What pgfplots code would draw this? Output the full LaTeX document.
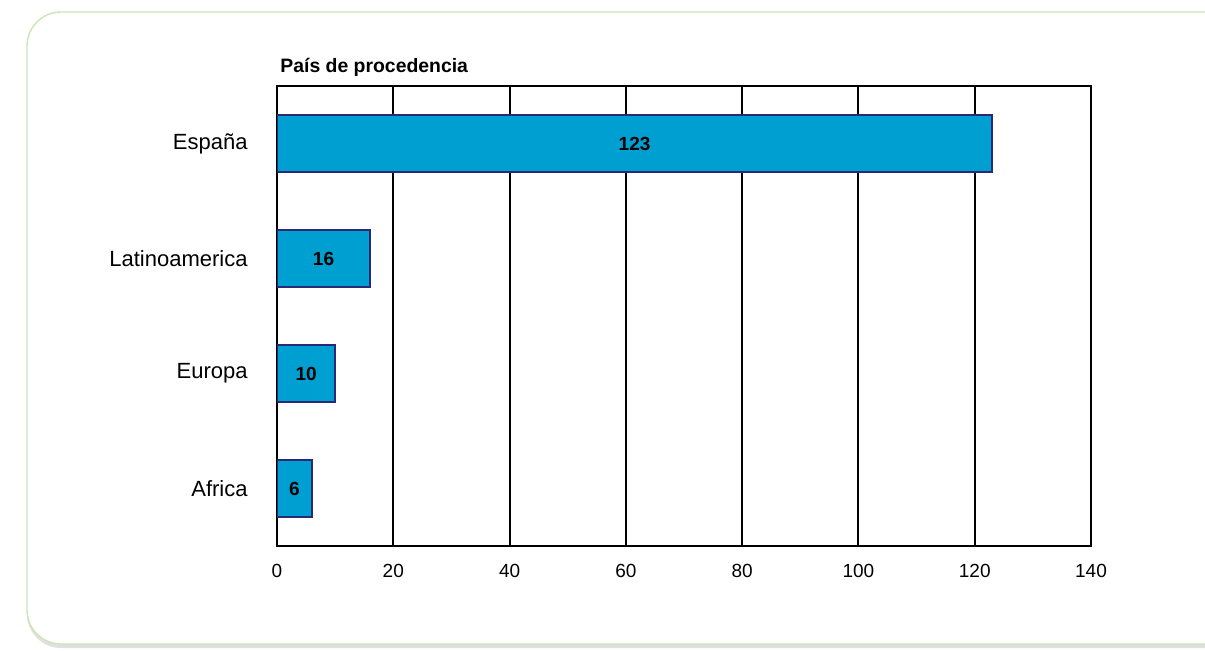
\documentclass[border=0pt]{standalone}
\usepackage{fontspec}
\setmainfont{Liberation Sans}
\usepackage{pgfplots}
\pgfplotsset{compat=1.18}
\usetikzlibrary{shadows}
\definecolor{barblue}{RGB}{0,159,210}
\definecolor{barnavy}{RGB}{40,42,120}
\definecolor{framegreen}{RGB}{205,228,185}

\begin{document}
\begin{tikzpicture}
  % picture is 1205 x 650 px, 1 px = 0.5 pt
  \useasboundingbox (0,0) rectangle (602.5pt,325pt);
  \clip (0,0) rectangle (602.5pt,325pt);
  \draw[framegreen, line width=0.7pt, fill=white, rounded corners=17pt,
        drop shadow={shadow xshift=0pt, shadow yshift=-2pt, opacity=0.3, fill=black!40}]
    (13.5pt,3pt) rectangle (640pt,319pt);

  \begin{axis}[
    at={(138.5pt,52pt)}, anchor=south west,
    scale only axis, width=407pt, height=230pt,
    xmin=0, xmax=140, ymin=-0.5, ymax=3.5,
    xtick={0,20,...,140},
    ytick={0,1,2,3},
    yticklabels={Africa,Europa,Latinoamerica,España},
    /pgf/number format/assume math mode=true,
    xticklabel style={font=\fontsize{9.5}{11}\selectfont, inner sep=0pt, yshift=-9pt},
    yticklabel style={font=\fontsize{11}{13}\selectfont, inner sep=0pt, xshift=-14.5pt},
    ytick style={draw=none},
    xtick style={black, line width=1pt},
    major tick length=1.5pt,
    xmajorgrids,
    major grid style={black, line width=1pt},
    axis line style={black, line width=1.2pt},
    title={\bfseries País de procedencia},
    title style={at={(0,1)}, anchor=south west, inner sep=0pt, xshift=1.5pt, yshift=-1.5pt,
                 font=\fontsize{9.7}{11}\selectfont},
  ]
    \addplot[xbar, bar width=28.5pt, fill=barblue, draw=barnavy, line width=1pt]
      coordinates {(6,0) (10,1) (16,2) (123,3)};
    % value labels at the middle of each bar
    \addplot[draw=none, mark=none, nodes near coords,
             point meta=explicit symbolic,
             every node near coord/.style={anchor=center, inner sep=0pt,
               font=\fontsize{9.5}{11}\selectfont\bfseries}]
      coordinates {(3,0)[6] (5,1)[10] (8,2)[16] (61.5,3)[123]};
  \end{axis}
\end{tikzpicture}
\end{document}
